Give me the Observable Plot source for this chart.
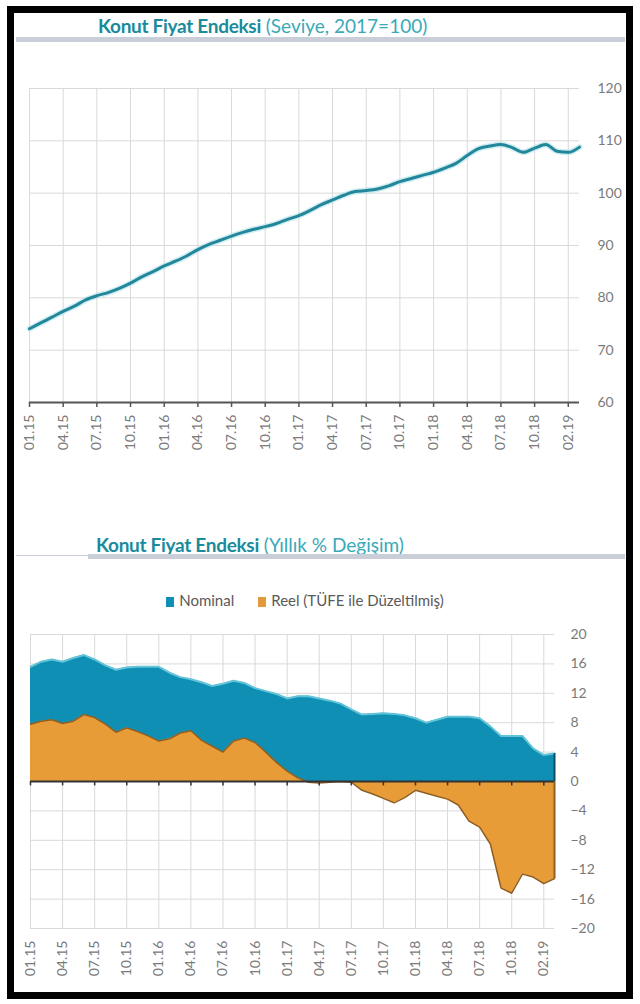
<!DOCTYPE html>
<html><head><meta charset="utf-8">
<script src="https://cdn.jsdelivr.net/npm/d3@7"></script>
<script src="https://cdn.jsdelivr.net/npm/@observablehq/plot@0.6"></script>
<style>
body{margin:0;background:#fff;font-family:Lato,"Open Sans",sans-serif;}
#page{position:relative;width:640px;height:1004px;overflow:hidden;background:#fff;}
.frame{position:absolute;left:7px;top:6px;width:612px;height:979px;border:7px solid #000;z-index:5;pointer-events:none;}
.title{position:absolute;font-size:19px;line-height:22px;white-space:nowrap;color:#3aa9b8;}
.title b{color:#1a8b9c;font-weight:700;letter-spacing:-0.3px;}
.band{position:absolute;height:5px;background:#c9ced8;}
.thin{position:absolute;height:1px;background:#c9ced8;}
.legend{position:absolute;top:591px;left:0;width:610px;text-align:center;font-size:15px;color:#595959;white-space:nowrap;}
.legend span.sw{display:inline-block;width:8px;height:10px;margin-right:5px;vertical-align:-1px;}
.legend .item{margin:0 12px;}
#topChart,#botChart{position:absolute;left:0;}
#topChart{top:70px;}
#botChart{top:615px;}
svg text{font-family:Lato,"Open Sans",sans-serif;}
</style></head>
<body>
<div id="page">
  <div class="frame"></div>
  <div class="title" style="left:98px;top:15px;"><b>Konut Fiyat Endeksi</b> (Seviye, 2017=100)</div>
  <div class="band" style="left:16px;top:37px;width:609px;"></div>
  <div class="title" style="left:96px;top:534px;"><b>Konut Fiyat Endeksi</b> (Yıllık % Değişim)</div>
  <div class="thin" style="left:16px;top:555px;width:72px;"></div>
  <div class="band" style="left:88px;top:554px;width:537px;"></div>
  <div class="legend"><span class="item"><span class="sw" style="background:#0f8fb3"></span>Nominal</span><span class="item"><span class="sw" style="background:#e39a3a"></span>Reel (TÜFE ile Düzeltilmiş)</span></div>
  <div id="topChart"></div>
  <div id="botChart"></div>
</div>
<script>
// Month index 0 = 01.15 ... 49 = 02.19
const tickLabels = ["01.15","04.15","07.15","10.15","01.16","04.16","07.16","10.16","01.17","04.17","07.17","10.17","01.18","04.18","07.18","10.18","02.19"];
const tickIndex = [0,3,6,9,12,15,18,21,24,27,30,33,36,39,42,45,48];

// Konut Fiyat Endeksi (Seviye, 2017=100), monthly
const levelValues = [74.1,75.2,76.3,77.4,78.4,79.6,80.4,81.0,81.8,82.8,
  84.0,85.0,86.1,87.0,88.0,89.2,90.2,91.0,91.8,92.5,
  93.1,93.6,94.2,95.0,95.7,96.7,97.8,98.7,99.6,100.3,
  100.5,100.8,101.4,102.2,102.8,103.4,104.0,104.8,105.7,107.2,
  108.5,109.0,109.3,108.7,107.8,108.6,109.3,108.0,107.8,108.8];

// Yıllık % Değişim
const nominalValues = [15.6,16.3,16.6,16.3,16.8,17.2,16.6,15.8,15.2,15.5,
  15.6,15.6,15.6,14.8,14.2,13.9,13.5,13.0,13.3,13.7,
  13.4,12.7,12.3,11.9,11.3,11.6,11.6,11.3,11.0,10.6,
  9.8,9.1,9.2,9.3,9.2,9.0,8.6,8.0,8.4,8.8,
  8.8,8.8,8.6,7.5,6.2,6.2,6.2,4.5,3.6,3.8];
const reelValues = [7.8,8.2,8.4,7.9,8.2,9.1,8.7,7.8,6.7,7.3,
  6.8,6.2,5.5,5.8,6.6,6.9,5.6,4.8,4.0,5.5,
  5.9,5.3,4.0,2.6,1.4,0.5,-0.1,-0.2,-0.1,0.0,
  -0.1,-1.2,-1.7,-2.3,-2.9,-2.2,-1.2,-1.6,-2.0,-2.4,
  -3.2,-5.4,-6.2,-8.5,-14.5,-15.2,-12.6,-13.0,-13.9,-13.2];

const levelTicks = [60,70,80,90,100,110,120];
const changeTicks = [-20,-16,-12,-8,-4,0,4,8,12,16,20];

const level = levelValues.map((v,i)=>({m:i, v}));
const change = nominalValues.map((v,i)=>({m:i, nominal:v, reel:reelValues[i]}));
const lastChange = [change[change.length-1]];
const fmtTick = d => tickLabels[tickIndex.indexOf(d)];
const grid = "#d9d9d9", labelColor = "#7a7a7a";

const topPlot = Plot.plot({
  width:640, height:390,
  marginLeft:29, marginRight:61, marginTop:18, marginBottom:58,
  style:{background:"transparent", fontSize:"14px"},
  x:{domain:[0,49]},
  y:{domain:[60,120]},
  marks:[
    Plot.gridX(tickIndex,{stroke:grid, strokeOpacity:1}),
    Plot.gridY(levelTicks,{stroke:grid, strokeOpacity:1}),
    Plot.axisY(levelTicks,{anchor:"right", tickSize:0, tickPadding:18, fill:labelColor, fontSize:14, label:null}),
    Plot.axisX(tickIndex,{anchor:"bottom", tickSize:5, tickPadding:7, tickRotate:-90, tickFormat:fmtTick, stroke:"#555", strokeWidth:1.5, fill:labelColor, fontSize:14, label:null}),
    Plot.ruleY([60],{stroke:"#555", strokeWidth:2}),
    Plot.line(level,{x:"m", y:"v", stroke:"#b5e3ea", strokeWidth:6, curve:"monotone-x", strokeOpacity:0.6}),
    Plot.line(level,{x:"m", y:"v", stroke:"#22879a", strokeWidth:3, curve:"monotone-x"})
  ]
});
document.getElementById("topChart").appendChild(topPlot);

const botPlot = Plot.plot({
  width:640, height:370,
  marginLeft:30, marginRight:86, marginTop:19, marginBottom:57,
  style:{background:"transparent", fontSize:"14px"},
  x:{domain:[0,49]},
  y:{domain:[-20,20]},
  marks:[
    Plot.gridX(tickIndex,{stroke:grid, strokeOpacity:1}),
    Plot.gridY(changeTicks,{stroke:grid, strokeOpacity:1}),
    Plot.axisY(changeTicks,{anchor:"right", tickSize:0, tickPadding:16, fill:labelColor, fontSize:14, label:null}),
    Plot.axisX(tickIndex,{anchor:"bottom", tickSize:0, tickPadding:12, tickRotate:-90, tickFormat:fmtTick, fill:labelColor, fontSize:14, label:null}),
    Plot.areaY(change,{x:"m", y:"nominal", fill:"#0f8fb3"}),
    Plot.line(change,{x:"m", y:"nominal", stroke:"#62c3d9", strokeWidth:2}),
    Plot.areaY(change,{x:"m", y:"reel", fill:"#e89c38"}),
    Plot.line(change,{x:"m", y:"reel", stroke:"#8f5e22", strokeWidth:1.5}),
    Plot.ruleX(lastChange,{x:"m", y1:0, y2:"nominal", stroke:"#0b4f66", strokeWidth:2}),
    Plot.ruleX(lastChange,{x:"m", y1:0, y2:"reel", stroke:"#8f5e22", strokeWidth:2}),
    Plot.ruleY([0],{stroke:"#333", strokeWidth:2}),
    Plot.ruleX(tickIndex,{x:d=>d, y1:0, y2:-0.6, stroke:"#333", strokeWidth:1.5})
  ]
});
document.getElementById("botChart").appendChild(botPlot);
</script>
</body></html>
